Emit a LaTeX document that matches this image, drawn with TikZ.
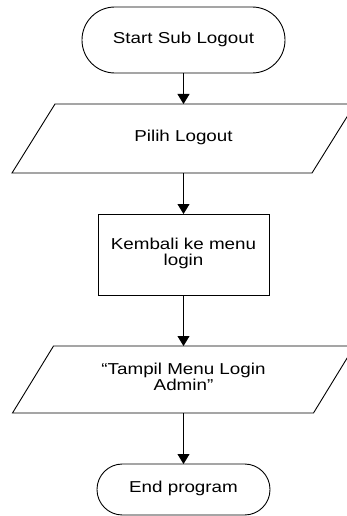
\documentclass[tikz,border=0pt]{standalone}
\usepackage{fontspec}
\setmainfont{Liberation Sans}
\usepackage{graphicx}
\usetikzlibrary{arrows.meta,calc}
\newcommand\flowtext[1]{\scalebox{1}[0.84]{\begin{tabular}{@{}c@{}}#1\end{tabular}}}
\newcommand\drawio[2]{\draw[outline] ($(#1.north west)+(#2,0)$) -- (#1.north east) -- ($(#1.south east)-(#2,0)$) -- (#1.south west) -- cycle;}
\begin{document}
\begin{tikzpicture}[x=1pt,y=-1pt,
  base/.style={draw=black,line width=0.9pt,inner sep=0pt,outer sep=0pt,
    font=\fontsize{18.8}{19.5}\selectfont},
  outline/.style={draw=black,line width=0.9pt,line join=miter},
  terminal/.style={base,rectangle,rounded corners=#1},
  process/.style={base,rectangle},
  io/.style={base,draw=none,rectangle},
  flow/.style={draw=black,line width=0.9pt,-{Triangle[width=12pt,length=10pt]}}]
\useasboundingbox (0,0) rectangle (346,516);
\node[terminal=32.9pt,minimum width=203pt,minimum height=66pt] (start) at (183.5,40) {\flowtext{Start Sub Logout}};
\node[io,minimum width=343pt,minimum height=69pt] (in1) at (183.5,138.5) {\flowtext{Pilih Logout}};
\drawio{in1}{43}
\node[process,minimum width=171pt,minimum height=81pt] (proc) at (183.5,254.5) {\flowtext{Kembali ke menu\\login}};
\node[io,minimum width=342pt,minimum height=67pt] (out1) at (183.5,379.5) {\flowtext{“Tampil Menu Login\\Admin”}};
\drawio{out1}{41}
\node[terminal=25.4pt,minimum width=173pt,minimum height=51pt] (stop) at (183.5,489.5) {\flowtext{End program}};
\draw[flow] (start.south) -- (in1.north);
\draw[flow] (in1.south) -- (proc.north);
\draw[flow] (proc.south) -- (out1.north);
\draw[flow] (out1.south) -- (stop.north);
\end{tikzpicture}
\end{document}
